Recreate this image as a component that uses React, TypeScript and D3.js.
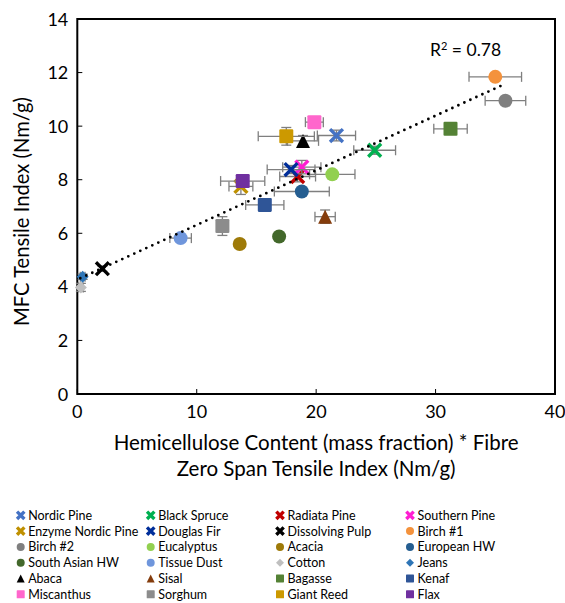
import React from 'react';
import * as d3 from 'd3';

// series
const names = [
  'Nordic Pine', 'Black Spruce', 'Radiata Pine', 'Southern Pine',
  'Enzyme Nordic Pine', 'Douglas Fir', 'Dissolving Pulp', 'Birch #1',
  'Birch #2', 'Eucalyptus', 'Acacia', 'European HW',
  'South Asian HW', 'Tissue Dust', 'Cotton', 'Jeans',
  'Abaca', 'Sisal', 'Bagasse', 'Kenaf',
  'Miscanthus', 'Sorghum', 'Giant Reed', 'Flax',
];
const shapes = [
  'x', 'x', 'x', 'x',
  'x', 'x', 'x', 'circle',
  'circle', 'circle', 'circle', 'circle',
  'circle', 'circle', 'diamond', 'diamond',
  'triangle', 'triangle', 'square', 'square',
  'square', 'square', 'square', 'square',
];
const colors = [
  '#4472C4', '#00B050', '#C00000', '#FF1ED2',
  '#BF9000', '#002E9A', '#000000', '#F4923C',
  '#7F7F7F', '#92D050', '#9E7A08', '#255E91',
  '#43682B', '#6F96DC', '#BFBFBF', '#2E75B6',
  '#000000', '#843C0C', '#548235', '#2F5597',
  '#FF66CC', '#8C8C8C', '#CC9900', '#7030A0',
];
const xValues = [
  21.7, 24.9, 18.45, 18.8,
  13.7, 17.9, 2.1, 35.0,
  35.85, 21.35, 13.6, 18.8,
  16.9, 8.65, 0.3, 0.45,
  18.9, 20.75, 31.25, 15.7,
  19.85, 12.15, 17.5, 13.85,
];
const yValues = [
  9.65, 9.1, 8.12, 8.47,
  7.75, 8.38, 4.68, 11.84,
  10.95, 8.2, 5.6, 7.56,
  5.88, 5.82, 3.98, 4.38,
  9.45, 6.62, 9.9, 7.06,
  10.15, 6.27, 9.62, 7.95,
];
const xErrors = [
  1.6, 1.75, 1.5, 1.6,
  1.0, 2.0, 0, 2.2,
  1.7, 1.9, 0.3, 2.3,
  0, 0.9, 0.2, 0.2,
  1.3, 0.85, 1.4, 1.6,
  0.75, 0.2, 2.35, 1.85,
];
const yErrors = [
  0.2, 0.15, 0.2, 0.25,
  0.3, 0.15, 0.1, 0.1,
  0.1, 0.1, 0.15, 0.1,
  0.1, 0.1, 0.15, 0.1,
  0.2, 0.25, 0.1, 0.15,
  0.2, 0.35, 0.33, 0.2,
];
const xTicks = [0, 10, 20, 30, 40];
const yTicks = [0, 2, 4, 6, 8, 10, 12, 14];
const trend = { slope: 0.204, intercept: 4.27, xStart: 0.25, xEnd: 35.6, r2: '0.78' };

const W = 565;
const H = 603;
const FONT = 'Lato, "Open Sans", sans-serif';

function Marker({ shape, color, cx, cy, s, thick = 0.24 }: { shape: string; color: string; cx: number; cy: number; s: number; thick?: number }) {
  if (shape === 'x') {
    const d = s * 0.46;
    return (
      <path d={`M${cx - d},${cy - d}L${cx + d},${cy + d}M${cx - d},${cy + d}L${cx + d},${cy - d}`}
        stroke={color} strokeWidth={s * thick} fill="none" />
    );
  }
  if (shape === 'circle') return <circle cx={cx} cy={cy} r={s / 2} fill={color} />;
  if (shape === 'square') return <rect x={cx - s / 2} y={cy - s / 2} width={s} height={s} rx={s * 0.08} fill={color} />;
  if (shape === 'diamond') {
    const d = s * 0.5;
    return <path d={`M${cx},${cy - d}L${cx + d},${cy}L${cx},${cy + d}L${cx - d},${cy}Z`} fill={color} />;
  }
  const h = s * 0.5;
  return <path d={`M${cx},${cy - h}L${cx + h},${cy + h}L${cx - h},${cy + h}Z`} fill={color} />;
}

export default function App() {
  const margin = { left: 77.3, right: 10, top: 19, bottom: 209 };
  const x = d3.scaleLinear().domain([0, 40]).range([margin.left, W - margin.right]);
  const y = d3.scaleLinear().domain([0, 14]).range([H - margin.bottom, margin.top]);
  const errColor = '#7F7F7F';
  const cap = 5;

  const trendLine = d3.line<number>().x(v => x(v)).y(v => y(trend.intercept + trend.slope * v));

  const legendCols = [20.7, 150.7, 280, 410];
  const legendTop = 515.3;
  const legendStep = 15.8;

  return (
    <svg width={W} height={H} style={{ position: 'absolute', left: 0, top: 0, background: '#fff' }} fontFamily={FONT}>
      {/* ticks */}
      {xTicks.map(t => (
        <g key={`xt${t}`}>
          <line x1={x(t)} x2={x(t)} y1={y(0)} y2={y(0) - 5} stroke="#000" strokeWidth={1} />
          <text x={x(t)} y={y(0) + 24} textAnchor="middle" fontSize={18} fill="#000">{t}</text>
        </g>
      ))}
      {yTicks.map(t => (
        <g key={`yt${t}`}>
          <line x1={x(0)} x2={x(0) + 5} y1={y(t)} y2={y(t)} stroke="#000" strokeWidth={1} />
          <text x={x(0) - 9} y={y(t) + 6.5} textAnchor="end" fontSize={18} fill="#000">{t}</text>
        </g>
      ))}
      <rect x={x(0)} y={y(14)} width={x(40) - x(0)} height={y(0) - y(14)} fill="none" stroke="#000" strokeWidth={2} />

      {/* series: error bars then marker */}
      {names.map((n, i) => {
        const cx = x(xValues[i]);
        const cy = y(yValues[i]);
        const x0 = x(xValues[i] - xErrors[i]);
        const x1 = x(xValues[i] + xErrors[i]);
        const y0 = y(yValues[i] - yErrors[i]);
        const y1 = y(yValues[i] + yErrors[i]);
        return (
          <g key={n}>
            {xErrors[i] > 0 && (
              <g stroke={errColor} strokeWidth={1.3}>
                <line x1={x0} x2={x1} y1={cy} y2={cy} />
                <line x1={x0} x2={x0} y1={cy - cap} y2={cy + cap} />
                <line x1={x1} x2={x1} y1={cy - cap} y2={cy + cap} />
              </g>
            )}
            {yErrors[i] > 0 && (
              <g stroke={errColor} strokeWidth={1.3}>
                <line x1={cx} x2={cx} y1={y0} y2={y1} />
                <line x1={cx - cap} x2={cx + cap} y1={y0} y2={y0} />
                <line x1={cx - cap} x2={cx + cap} y1={y1} y2={y1} />
              </g>
            )}
            <Marker shape={shapes[i]} color={colors[i]} cx={cx} cy={cy} s={shapes[i] === 'diamond' ? 12 : 14} />
          </g>
        );
      })}

      {/* linear trendline */}
      <path d={trendLine([trend.xStart, trend.xEnd]) || ''} fill="none" stroke="#000"
        strokeWidth={2.8} strokeLinecap="round" strokeDasharray="0 6.6" />
      <text x={430} y={56} fontSize={17.5} fill="#000">
        R<tspan dy={-6} fontSize={11}>2</tspan><tspan dy={6}> = {trend.r2}</tspan>
      </text>

      {/* axis titles */}
      <text x={(x(0) + x(40)) / 2} y={450} textAnchor="middle" fontSize={20.5} fill="#000">
        Hemicellulose Content (mass fraction) * Fibre
      </text>
      <text x={(x(0) + x(40)) / 2} y={476} textAnchor="middle" fontSize={20.5} fill="#000">
        Zero Span Tensile Index (Nm/g)
      </text>
      <text transform={`translate(29,${(y(0) + y(14)) / 2 + 5}) rotate(-90)`} textAnchor="middle" fontSize={20.2} fill="#000">
        MFC Tensile Index (Nm/g)
      </text>

      {/* legend */}
      {names.map((n, i) => {
        const col = i % 4;
        const row = Math.floor(i / 4);
        const lx = legendCols[col];
        const ly = legendTop + row * legendStep;
        return (
          <g key={`lg${n}`}>
            <Marker shape={shapes[i]} color={colors[i]} cx={lx} cy={ly} s={shapes[i] === 'x' ? 8 : 8} thick={0.42} />
            <text x={lx + 7.5} y={ly + 4.5} fontSize={12.5} fill="#000">{n}</text>
          </g>
        );
      })}
    </svg>
  );
}
